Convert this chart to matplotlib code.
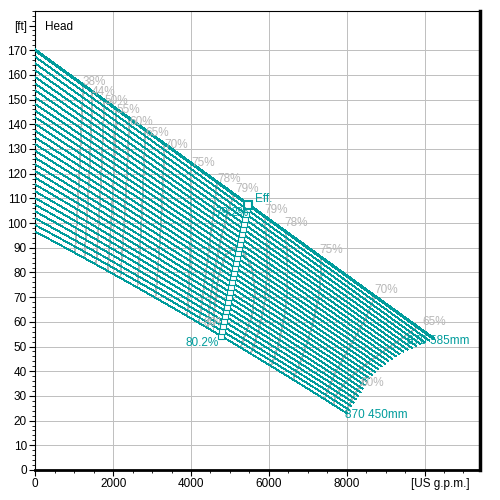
import numpy as np
import matplotlib
matplotlib.use("Agg")
import matplotlib.pyplot as plt
from matplotlib.ticker import MultipleLocator
from matplotlib.path import Path
from matplotlib.patches import PathPatch

plt.rcParams['font.family'] = ['Liberation Sans', 'DejaVu Sans']
plt.rcParams['font.size'] = 8.5

TEAL = '#009c9c'
GRID = '#c0c0c0'
EFF = '#b8b8b8'

# Pump curves, 870 rpm, one per impeller diameter [mm]
diameters = [450, 455, 460, 465, 470, 475, 480, 485, 490, 495, 500, 505, 510, 515,
             520, 525, 530, 535, 540, 545, 550, 555, 560, 565, 570, 575, 580, 585]
shutoff_head = [96.5, 99.2, 101.9, 104.7, 107.4, 110.1, 112.8, 115.6, 118.3, 121.0,
                123.7, 126.4, 129.2, 131.9, 134.6, 137.3, 140.1, 142.8, 145.5, 148.2,
                150.9, 153.7, 156.4, 159.1, 161.8, 164.6, 167.3, 170.0]
bep_flow = [4770, 4796, 4822, 4848, 4874, 4900, 4926, 4952, 4977, 5003, 5029, 5055, 5081, 5107,
            5133, 5159, 5185, 5211, 5237, 5263, 5289, 5314, 5340, 5366, 5392, 5418, 5444, 5470]
bep_head = [54.3, 56.3, 58.2, 60.2, 62.2, 64.2, 66.1, 68.1, 70.1, 72.0, 74.0, 76.0, 78.0, 79.9,
            81.9, 83.9, 85.8, 87.8, 89.8, 91.7, 93.7, 95.7, 97.6, 99.6, 101.6, 103.6, 105.5, 107.5]
end_flow = [8000, 8060, 8120, 8180, 8240, 8300, 8355, 8410, 8465, 8520, 8580, 8655, 8730, 8810,
            8895, 8980, 9070, 9165, 9260, 9355, 9455, 9565, 9675, 9785, 9895, 10005, 10115, 10225]
end_head = [23.0, 24.4, 25.85, 27.25, 28.65, 30.05, 31.5, 32.95, 34.4, 35.8, 37.2, 38.4, 39.65, 40.85,
            41.95, 43.05, 44.1, 45.1, 46.05, 47.0, 47.9, 48.7, 49.45, 50.25, 51.0, 51.7, 52.45, 53.3]

# Efficiency lines (flow, head) and their labels
eff_names = ['38%', '44%', '50%', '55%', '60%', '65%', '70%', '75%', '78%', '79%',
             '79%', '78%', '75%', '70%', '65%', '60%']
eff_lines = [
    [(1235, 159), (1130, 120), (1010, 85)],
    [(1470, 156), (1380, 118), (1250, 83)],
    [(1775, 153), (1680, 115), (1550, 80)],
    [(2085, 149), (1990, 112), (1850, 78)],
    [(2420, 145.5), (2320, 110), (2170, 75)],
    [(2830, 141), (2740, 105), (2610, 71)],
    [(3320, 135), (3230, 100), (3070, 67)],
    [(4000, 127), (3990, 95), (3890, 59)],
    [(4690, 119), (4450, 88), (4180, 57)],
    [(5150, 114), (4750, 92), (4550, 75), (4420, 55)],
    [(5860, 108), (5950, 85), (5900, 68), (5700, 55), (5450, 44)],
    [(6400, 100), (6480, 78), (6350, 58), (6000, 40)],
    [(7320, 90), (7250, 68), (6950, 50), (6550, 34)],
    [(8760, 73), (8300, 56), (7800, 42), (7400, 26)],
    [(9980, 60), (9300, 52), (8600, 44), (8000, 36), (7700, 22)],
    [(8520, 38), (8150, 29), (7900, 20)],
]
eff_label_q = [1225, 1460, 1765, 2075, 2410, 2820, 3310, 4000, 4670, 5130,
               5880, 6410, 7310, 8720, 9935, 8340]
eff_label_h = [157.1, 153.0, 149.4, 145.7, 140.9, 136.4, 131.6, 124.3, 117.8, 113.8,
               105.3, 100.0, 89.1, 72.9, 59.9, 35.2]

loop80_q = [4560, 4600, 4700, 4880, 5100, 5350, 5560, 5650, 5560, 5350, 5200]
loop80_h = [50, 65, 78, 87, 90, 88, 82, 72, 62, 53, 46]

fig = plt.figure(figsize=(5, 5), dpi=100)
ax = fig.add_axes([0.0706, 0.06, 0.8894, 0.9186])

curves_q = []
curves_h = []
for h0, qb, hb, qe, he in zip(shutoff_head, bep_flow, bep_head, end_flow, end_head):
    c = np.polyfit([0, qb, qe], [h0, hb, he], 2)
    q = np.linspace(0, qe, 120)
    curves_q.append(q)
    curves_h.append(np.polyval(c, q))

# region covered by the curve family, used to clip the efficiency lines
verts = list(zip(curves_q[-1], curves_h[-1]))
verts += list(zip(end_flow[::-1], end_head[::-1]))
verts += list(zip(curves_q[0][::-1], curves_h[0][::-1]))
verts.append(verts[0])
region = PathPatch(Path(verts), transform=ax.transData, facecolor='none', edgecolor='none')
ax.add_patch(region)

for pts in eff_lines:
    qq = np.array([p[0] for p in pts])
    hh = np.array([p[1] for p in pts])
    deg = min(3, len(pts) - 1)
    c = np.polyfit(hh, qq, deg)
    hs = np.linspace(hh.min(), hh.max(), 80)
    ln, = ax.plot(np.polyval(c, hs), hs, color=EFF, lw=0.6, antialiased=False, zorder=2)
    ln.set_clip_path(region)

ln, = ax.plot(loop80_q, loop80_h, color=EFF, lw=0.6, antialiased=False, zorder=2)
ln.set_clip_path(region)

for name, q, h in zip(eff_names, eff_label_q, eff_label_h):
    ax.text(q, h, name, color=EFF, ha='left', va='center', zorder=4)
ax.text(4310, 59.5, '80%', color=EFF, ha='left', va='center', zorder=4)

for i, (q, h) in enumerate(zip(curves_q, curves_h)):
    top = i == len(curves_q) - 1
    ax.plot(q, h, color=TEAL, lw=1.4 if top else 0.6, antialiased=False, zorder=3)

# best efficiency points
ax.plot(bep_flow, bep_head, color=TEAL, lw=0.8, marker='s', ms=4.2, mfc='white',
        mec=TEAL, mew=0.8, zorder=5)
ax.plot(bep_flow[-1], bep_head[-1], marker='s', ms=5.5, mfc='white', mec=TEAL,
        mew=1.5, zorder=6)

ax.text(5640, 109.7, 'Eff.', color=TEAL, ha='left', va='center', zorder=7)
ax.text(5470, 104.0, '79.2%', color=TEAL, ha='right', va='center', zorder=7)
ax.text(4720, 51.4, '80.2%', color=TEAL, ha='right', va='center', zorder=7)
ax.text(9540, 52.2, '870 585mm', color=TEAL, ha='left', va='center', zorder=7)
ax.text(7955, 22.3, '870 450mm', color=TEAL, ha='left', va='center', zorder=7)
ax.text(250, 179.4, 'Head', color='black', ha='left', va='center', zorder=7)

ax.set_xlim(0, 11425)
ax.set_ylim(0, 186)

ax.set_xticks([0, 2000, 4000, 6000, 8000, 10000])
ax.set_xticklabels(['0', '2000', '4000', '6000', '8000', ''])
ax.text(10400, -0.0305, '[US g.p.m.]', transform=ax.get_xaxis_transform(),
        ha='center', va='center')
yt = list(range(0, 181, 10))
ax.set_yticks(yt)
ax.set_yticklabels([str(v) for v in yt[:-1]] + ['[ft]'])
ax.xaxis.set_minor_locator(MultipleLocator(500))
ax.yaxis.set_minor_locator(MultipleLocator(2))
ax.tick_params(which='major', direction='out', length=4, width=0.8, pad=2)
ax.tick_params(which='minor', direction='out', length=2.5, width=0.6)

ax.set_axisbelow(True)
ax.grid(True, which='major', color=GRID, lw=0.6, antialiased=False)
ax.get_ygridlines()[-1].set_visible(False)

for side, lw in [('left', 0.8), ('top', 0.8), ('right', 2.5), ('bottom', 2)]:
    ax.spines[side].set_linewidth(lw)
    ax.spines[side].set_color('black')

fig.savefig('out.png', dpi=100)
